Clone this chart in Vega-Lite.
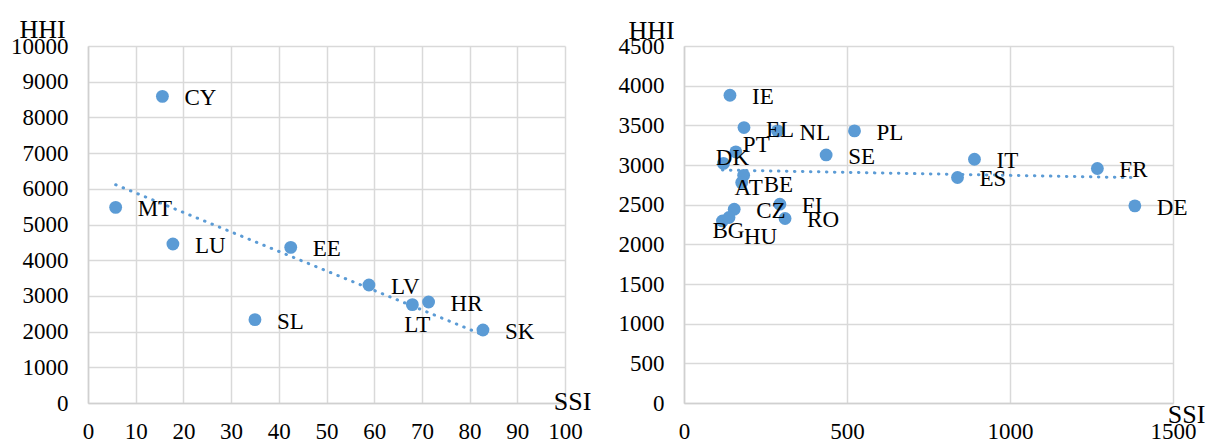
{
  "$schema": "https://vega.github.io/schema/vega-lite/v6.json",
  "padding": {"left": 10, "top": 16, "right": 0, "bottom": 0},
  "spacing": 27,
  "background": "white",
  "datasets": {
    "small": [
      {"c": "CY", "ssi": 15.6, "hhi": 8590},
      {"c": "MT", "ssi": 5.8, "hhi": 5480},
      {"c": "LU", "ssi": 17.8, "hhi": 4455},
      {"c": "EE", "ssi": 42.5, "hhi": 4360},
      {"c": "LV", "ssi": 58.9, "hhi": 3305},
      {"c": "LT", "ssi": 68.0, "hhi": 2755},
      {"c": "HR", "ssi": 71.4, "hhi": 2830},
      {"c": "SL", "ssi": 35.0, "hhi": 2335},
      {"c": "SK", "ssi": 82.8, "hhi": 2045}
    ],
    "large": [
      {"c": "IE", "ssi": 141, "hhi": 3879},
      {"c": "EL", "ssi": 184, "hhi": 3472},
      {"c": "NL", "ssi": 287, "hhi": 3430},
      {"c": "PL", "ssi": 523, "hhi": 3430},
      {"c": "PT", "ssi": 159, "hhi": 3165},
      {"c": "DK", "ssi": 121, "hhi": 3020},
      {"c": "SE", "ssi": 436, "hhi": 3127},
      {"c": "AT", "ssi": 183, "hhi": 2870},
      {"c": "BE", "ssi": 177, "hhi": 2778},
      {"c": "CZ", "ssi": 154, "hhi": 2442},
      {"c": "BG", "ssi": 118, "hhi": 2295},
      {"c": "HU", "ssi": 138, "hhi": 2338},
      {"c": "FI", "ssi": 294, "hhi": 2506},
      {"c": "RO", "ssi": 310, "hhi": 2326},
      {"c": "IT", "ssi": 891, "hhi": 3073},
      {"c": "ES", "ssi": 839, "hhi": 2843},
      {"c": "FR", "ssi": 1268, "hhi": 2956},
      {"c": "DE", "ssi": 1383, "hhi": 2485}
    ]
  },
  "config": {
    "font": "Liberation Serif",
    "view": {"stroke": null},
    "axis": {
      "grid": true,
      "gridColor": "#d9d9d9",
      "gridWidth": 1.5,
      "domainColor": "#d0d0d0",
      "domainWidth": 1.5,
      "ticks": false,
      "labelFont": "Liberation Serif",
      "labelFontSize": 23,
      "labelColor": "#000000",
      "labelFlush": false,
      "labelOverlap": false,
      "labelBound": false,
      "titleFont": "Liberation Serif",
      "titleFontSize": 26,
      "titleFontWeight": "normal",
      "titleColor": "#000000",
      "titleAngle": 0,
      "titleAlign": "center",
      "titleBaseline": "alphabetic",
      "format": "d"
    },
    "axisX": {"labelBaseline": "middle", "labelPadding": 28},
    "axisY": {"labelPadding": 20}
  },
  "hconcat": [
    {
      "width": 477,
      "height": 357,
      "data": {"name": "small"},
      "encoding": {
        "x": {"field": "ssi", "type": "quantitative", "scale": {"domain": [0, 100], "nice": false, "zero": false},
              "axis": {"title": "SSI", "values": [0,10,20,30,40,50,60,70,80,90,100], "titleX": 484, "titleY": 6}},
        "y": {"field": "hhi", "type": "quantitative", "scale": {"domain": [0, 10000], "nice": false},
              "axis": {"title": "HHI", "values": [0,1000,2000,3000,4000,5000,6000,7000,8000,9000,10000], "titleX": -46, "titleY": -9}}
      },
      "layer": [
        {
          "transform": [{"regression": "hhi", "on": "ssi"}],
          "mark": {"type": "line", "color": "#5b9bd5", "strokeWidth": 3, "strokeDash": [0.5, 7.5], "strokeCap": "round"}
        },
        {
          "mark": {"type": "point", "filled": true, "size": 165, "color": "#5b9bd5", "opacity": 1}
        },
        {
          "transform": [{"filter": "datum.c !== 'LT'"}],
          "mark": {"type": "text", "align": "left", "baseline": "middle", "dx": 22, "dy": 2, "fontSize": 23, "color": "#000000"},
          "encoding": {"text": {"field": "c"}}
        },
        {
          "transform": [{"filter": "datum.c === 'LT'"}],
          "mark": {"type": "text", "align": "center", "baseline": "middle", "dx": 5, "dy": 20, "fontSize": 23, "color": "#000000"},
          "encoding": {"text": {"field": "c"}}
        }
      ]
    },
    {
      "width": 489,
      "height": 357,
      "data": {"name": "large"},
      "encoding": {
        "x": {"field": "ssi", "type": "quantitative", "scale": {"domain": [0, 1500], "nice": false, "zero": false},
              "axis": {"title": "SSI", "values": [0,500,1000,1500], "titleX": 502, "titleY": 19}},
        "y": {"field": "hhi", "type": "quantitative", "scale": {"domain": [0, 4500], "nice": false},
              "axis": {"title": "HHI", "values": [0,500,1000,1500,2000,2500,3000,3500,4000,4500], "titleX": -33, "titleY": -8}}
      },
      "layer": [
        {
          "transform": [{"regression": "hhi", "on": "ssi"}],
          "mark": {"type": "line", "color": "#5b9bd5", "strokeWidth": 3, "strokeDash": [0.5, 7.5], "strokeCap": "round"}
        },
        {
          "mark": {"type": "point", "filled": true, "size": 165, "color": "#5b9bd5", "opacity": 1}
        },
        {
          "transform": [{"filter": "indexof(['PT','DK','AT','BG','HU'], datum.c) < 0"}],
          "mark": {"type": "text", "align": "left", "baseline": "middle", "dx": 22, "dy": 2, "fontSize": 23, "color": "#000000"},
          "encoding": {"text": {"field": "c"}}
        },
        {
          "transform": [{"filter": "datum.c === 'PT'"}],
          "mark": {"type": "text", "align": "left", "baseline": "middle", "dx": 7, "dy": -7, "fontSize": 23, "color": "#000000"},
          "encoding": {"text": {"field": "c"}}
        },
        {
          "transform": [{"filter": "datum.c === 'DK'"}],
          "mark": {"type": "text", "align": "center", "baseline": "middle", "dx": 9, "dy": -5, "fontSize": 23, "color": "#000000"},
          "encoding": {"text": {"field": "c"}}
        },
        {
          "transform": [{"filter": "datum.c === 'AT'"}],
          "mark": {"type": "text", "align": "center", "baseline": "middle", "dx": 5, "dy": 13, "fontSize": 23, "color": "#000000"},
          "encoding": {"text": {"field": "c"}}
        },
        {
          "transform": [{"filter": "datum.c === 'BG'"}],
          "mark": {"type": "text", "align": "center", "baseline": "middle", "dx": 6, "dy": 10, "fontSize": 23, "color": "#000000"},
          "encoding": {"text": {"field": "c"}}
        },
        {
          "transform": [{"filter": "datum.c === 'HU'"}],
          "mark": {"type": "text", "align": "left", "baseline": "middle", "dx": 15, "dy": 19, "fontSize": 23, "color": "#000000"},
          "encoding": {"text": {"field": "c"}}
        }
      ]
    }
  ]
}
